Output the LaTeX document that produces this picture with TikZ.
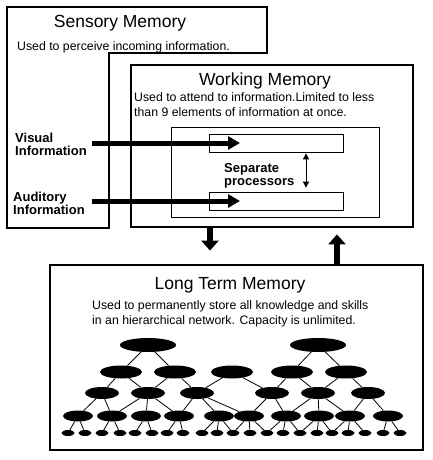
\documentclass[tikz,border=0pt]{standalone}
\usepackage{fontspec}
\setmainfont{Liberation Sans}
\usetikzlibrary{positioning,shapes.geometric,arrows.meta}

\begin{document}
\begin{tikzpicture}[
  x=1pt, y=-1pt,
  box/.style={rectangle, draw, line width=2.8pt},
  thinbox/.style={rectangle, draw, line width=0.8pt},
  title/.style={font=\fontsize{17.5}{20}\selectfont, inner sep=0pt},
  body/.style={font=\fontsize{12.3}{15}\selectfont, align=left, inner sep=0pt},
  lbl/.style={font=\bfseries\fontsize{13}{13}\selectfont, align=left, inner sep=0pt},
  feed/.style={line width=5pt, -{Triangle[length=12pt,width=13pt]}},
  flow/.style={line width=6pt, -{Triangle[length=10pt,width=17pt]}},
  blob/.style={ellipse, fill=black, inner sep=0pt},
  link/.style={line width=0.8pt}
]
\path[fill=white, use as bounding box] (0,0) rectangle (432,460);

% Sensory memory
\draw[line width=2.8pt] (7,7) -- (267,7) -- (267,53) -- (109,53) -- (109,228) -- (7,228) -- cycle;
\node[title, anchor=north] (senst) at (120,15) {Sensory Memory};
\node[body, anchor=north west] (senstx) at (17,41) {Used to perceive incoming information.};
\node[lbl, anchor=north west] (vis) at (15,133) {Visual\\Information};
\node[lbl, anchor=north west] (aud) at (13,192) {Auditory\\Information};

% Working memory
\node[box, minimum width=282pt, minimum height=162pt] (wm) at (272,146) {};
\node[title, anchor=north] (wmt) at (265,73) {Working Memory};
\node[body, anchor=north west] (wmtx) at (134,92) {Used to attend to information.Limited to less\\than 9 elements of information at once.};
\node[thinbox, minimum width=208pt, minimum height=90pt] (inner) at (275,172) {};
\node[thinbox, minimum width=134pt, minimum height=18pt] (ptop) at (276,143) {};
\node[thinbox, minimum width=134pt, minimum height=18pt] (pbot) at (276,201) {};
\node[lbl, anchor=north west] (sep) at (224,163) {Separate\\processors};

% Arrows
\draw[feed, shorten <=5pt] (vis.east |- ptop) -- ([xshift=-36pt]ptop.center);
\draw[feed, shorten <=7pt] (aud.east |- pbot) -- ([xshift=-36pt]pbot.center);
\draw[line width=0.9pt, {Triangle[length=6pt,width=6pt]}-{Triangle[length=6pt,width=6pt]}, shorten <=1pt, shorten >=4pt]
  ([xshift=30pt]ptop.south) -- ([xshift=30pt]pbot.north);

% Long term memory
\node[box, minimum width=373pt, minimum height=185pt] (ltm) at (236.5,357.5) {};
\node[title, anchor=north] (ltmt) at (230,277) {Long Term Memory};
\node[body, anchor=north west] (ltmtx) at (92,300) {Used to permanently store all knowledge and skills\\in an hierarchical network. Capacity is unlimited.};

\draw[flow, shorten >=13pt] ([xshift=-62pt]wm.south) -- ([xshift=-26.5pt]ltm.north);
\draw[flow, shorten >=6pt] ([xshift=100.5pt]ltm.north) -- ([xshift=65pt]wm.south);

% Network
\foreach \x [count=\i] in {148,318}
  \node[blob, minimum width=56pt, minimum height=14pt] (a\i) at (\x,345) {};
\foreach \x [count=\i] in {121,175,232,292,346}
  \node[blob, minimum width=42pt, minimum height=13pt] (b\i) at (\x,372) {};
\foreach \x [count=\i] in {102,148,197,272,318,368}
  \node[blob, minimum width=34pt, minimum height=12pt] (c\i) at (\x,393) {};
\foreach \x [count=\i] in {78,112,146,179,219,249,286,319,350,388}
  \node[blob, minimum width=30pt, minimum height=11pt] (d\i) at (\x,416) {};
\foreach \x [count=\i] in {68,85,102,120,135,152,167,183,202,217,233,250,267,283,300,317,332,348,365,383,400}
  \node[blob, minimum width=13pt, minimum height=6pt] (e\i) at (\x,433) {};

\foreach \p/\cs in {1/{1,2}, 2/{4,5}}
  \foreach \c in \cs \draw[link] (a\p) -- (b\c);
\foreach \p/\cs in {1/{1,2}, 2/{2,3}, 3/{3,4}, 4/{4,5}, 5/{5,6}}
  \foreach \c in \cs \draw[link] (b\p) -- (c\c);
\foreach \p/\cs in {1/{1,2}, 2/{2,3,4}, 3/{4,5,6}, 4/{6,7}, 5/{7,8,9}, 6/{9,10}}
  \foreach \c in \cs \draw[link] (c\p) -- (d\c);
\foreach \p/\cs in {1/{1,2}, 2/{3,4}, 3/{5,6}, 4/{7,8}, 5/{9,10,11}, 6/{11,12,13}, 7/{13,14,15}, 8/{15,16,17}, 9/{17,18,19}, 10/{20,21}}
  \foreach \c in \cs \draw[link] (d\p) -- (e\c);
\end{tikzpicture}
\end{document}
